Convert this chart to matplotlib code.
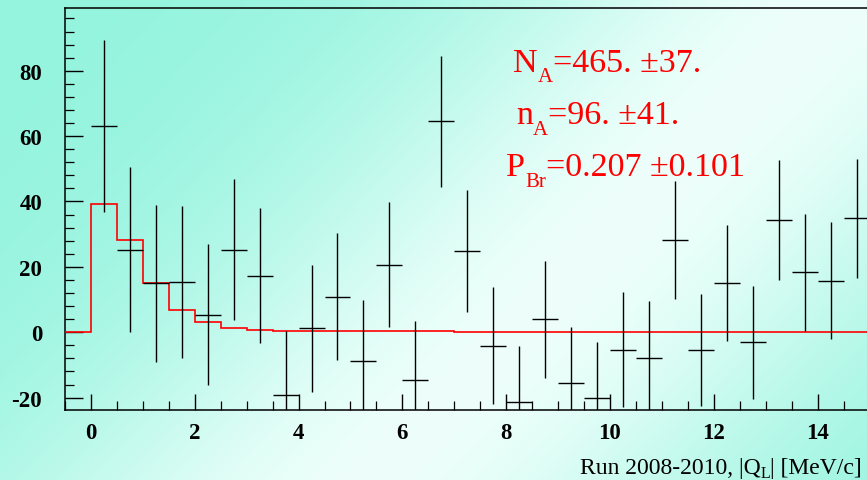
import numpy as np
import matplotlib
matplotlib.use("Agg")
import matplotlib.pyplot as plt
from matplotlib.ticker import MultipleLocator

plt.rcParams['font.family'] = ['Liberation Serif', 'DejaVu Serif']
plt.rcParams['axes.unicode_minus'] = False

# ---- data ----
q_centers = [0.25, 0.75, 1.25, 1.75, 2.25, 2.75, 3.25, 3.75, 4.25, 4.75,
             5.25, 5.75, 6.25, 6.75, 7.25, 7.75, 8.25, 8.75, 9.25, 9.75,
             10.25, 10.75, 11.25, 11.75, 12.25, 12.75, 13.25, 13.75, 14.25, 14.75]
counts = [63.1, 25.3, 15.0, 15.3, 5.4, 25.3, 17.3, -19.1, 1.2, 10.9,
          -8.7, 20.7, -14.6, 64.5, 24.8, -4.1, -21.4, 3.9, -15.5, -20.1,
          -5.3, -8.0, 28.2, -5.5, 15.1, -3.1, 34.4, 18.3, 15.8, 34.9]
count_err = [26.4, 25.2, 24.0, 23.2, 21.6, 21.5, 20.7, 19.4, 19.4, 19.4,
             18.6, 19.2, 17.9, 20.0, 18.7, 18.0, 17.1, 17.8, 17.0, 17.0,
             17.5, 17.4, 18.0, 17.2, 17.8, 17.2, 18.4, 18.0, 17.8, 18.2]
bin_half_width = 0.25

# red fitted histogram, first bin [-0.5, 0)
fit_values = [0.0, 39.1, 28.3, 15.2, 6.8, 3.1, 1.3, 0.8, 0.5, 0.4, 0.3,
              0.3, 0.3, 0.25, 0.25, 0.2, 0.2, 0.2, 0.15, 0.1, 0.08,
              0.06, 0.05, 0.05, 0.05, 0.04, 0.04, 0.03, 0.03, 0.03, 0.03]
fit_edges = [-0.5] + [c - bin_half_width for c in q_centers] + [15.0]

x_ticks = [0, 2, 4, 6, 8, 10, 12, 14]
y_ticks = [-20, 0, 20, 40, 60, 80]

# (text, is_subscript) pieces
fit_lines = [
    [("N", False), ("A", True), ("=465. ±37.", False)],
    [("n", False), ("A", True), ("=96. ±41.", False)],
    [("P", False), ("Br", True), ("=0.207 ±0.101", False)],
]
xlabel_pieces = [("Run 2008-2010, |Q", False), ("L", True), ("| [MeV/c]", False)]

W, H = 867, 481
fig = plt.figure(figsize=(W / 100, H / 100), dpi=100)

# ---- gradient background ----
bg = fig.add_axes([0, 0, 1, 1], zorder=-10)
yy, xx = np.mgrid[0:H, 0:W]
u = 0.65 * xx / W + 0.35 * yy / H
f = np.exp(-((u - 0.63) / 0.27) ** 2)
dark = np.array([148, 244, 222]) / 255.0
light = np.array([238, 255, 251]) / 255.0
img = dark[None, None, :] + f[:, :, None] * (light - dark)[None, None, :]
bg.imshow(img, aspect='auto', extent=[0, 1, 0, 1], origin='upper')
bg.set_axis_off()

# ---- main axes ----
x0_px, xscale = 91.0, 51.9
left_px, top_px, bottom_px = 65.0, 9.0, 411.0
ax = fig.add_axes([left_px / W, (H - bottom_px) / H, 1 - left_px / W,
                   (bottom_px - top_px) / H])
ax.set_facecolor('none')
ax.set_xlim(-0.5, (W - x0_px) / xscale)
ax.set_ylim(-23.8, 99.2)

ax.stairs(fit_values, fit_edges, color='red', linewidth=1.2, zorder=3)
ax.errorbar(q_centers, counts, xerr=bin_half_width, yerr=count_err, fmt='none',
            ecolor='black', elinewidth=1.0, capsize=0, zorder=4)

ax.set_xticks(x_ticks)
ax.set_yticks(y_ticks)
ax.xaxis.set_minor_locator(MultipleLocator(0.5))
ax.yaxis.set_minor_locator(MultipleLocator(4))
ax.tick_params(axis='x', which='major', direction='in', length=11.5, width=1.0,
               labelsize=16.5, pad=9, top=False)
ax.tick_params(axis='x', which='minor', direction='in', length=6.5, width=0.9,
               top=False)
ax.tick_params(axis='y', which='major', direction='in', length=13, width=1.0,
               labelsize=16.5, pad=16.5, right=False)
ax.tick_params(axis='y', which='minor', direction='in', length=6.5, width=0.9,
               right=False)
for lab in ax.get_xticklabels() + ax.get_yticklabels():
    lab.set_fontweight('bold')
ax.spines['right'].set_visible(False)
for s in ['left', 'bottom', 'top']:
    ax.spines[s].set_linewidth(1.1)

renderer = fig.canvas.get_renderer()


def draw_pieces(x_px, base_px, pieces, size, sub_size, sub_drop, align='left', **kw):
    widths = []
    for txt, sub in pieces:
        t = fig.text(0, 0, txt, fontsize=sub_size if sub else size, **kw)
        widths.append(t.get_window_extent(renderer).width)
        t.remove()
    x = x_px - sum(widths) if align == 'right' else x_px
    for (txt, sub), w in zip(pieces, widths):
        y = base_px + (sub_drop if sub else 0)
        fig.text(x / W, 1 - y / H, txt, fontsize=sub_size if sub else size,
                 ha='left', va='baseline', **kw)
        x += w


# ---- texts ----
text_pos = [(513, 71.5), (516, 124), (506, 176)]
for (px, py), pieces in zip(text_pos, fit_lines):
    draw_pieces(px, py, pieces, 24.5, 15, 11, color='red')

draw_pieces(862, 474, xlabel_pieces, 17, 11.5, 4, align='right', color='black')

fig.savefig('out.png', dpi=100)
